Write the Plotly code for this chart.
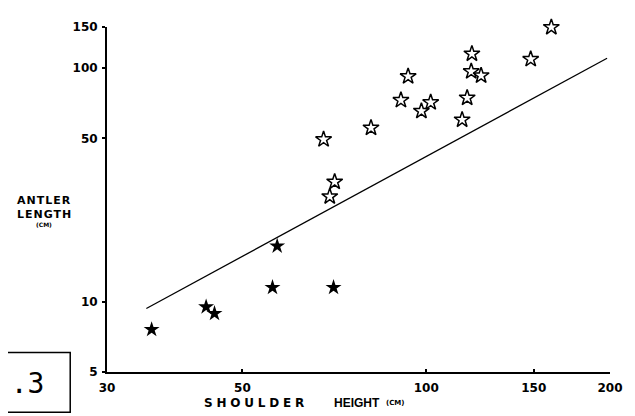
import math
import plotly.graph_objects as go

# Filled stars (shoulder height cm, antler length cm)
filled_height = [35.5, 43.6, 45.0, 56.0, 57.0, 70.5]
filled_antler = [7.6, 9.5, 8.9, 11.5, 17.3, 11.5]

# Open stars
open_height = [67.9, 70.8, 69.5, 81.2, 90.9, 93.4, 98.2, 101.7, 114.5, 116.7,
               118.5, 118.8, 123.0, 148.3, 160.3, 204.8]
open_antler = [49.5, 32.6, 28.2, 55.5, 72.9, 92.2, 65.5, 71.3, 60.1, 74.6,
               96.8, 115.2, 92.9, 109.2, 149.6, 110.9]

# Regression line endpoints
line_height = [34.8, 197.8]
line_antler = [9.35, 110.2]

x_ticks = [30, 50, 100, 150, 200]
y_ticks = [5, 10, 50, 100, 150]

# page is offset by the default 8px body margin
OFF = 8
W, H = 635 - OFF, 416 - OFF
L, R, T, B = 107 - OFF, 22, 20 - OFF, 44
PW, PH = W - L - R, H - T - B


def px(x):  # reference page pixel -> paper x
    return (x - 107) / PW


def py(y):  # reference page pixel -> paper y
    return (372 - y) / PH


fig = go.Figure()
fig.add_trace(go.Scatter(x=line_height, y=line_antler, mode="lines",
                         line=dict(color="black", width=1.3),
                         hoverinfo="skip", showlegend=False))
fig.add_trace(go.Scatter(x=filled_height, y=filled_antler, mode="markers",
                         marker=dict(symbol="star", size=12, color="black",
                                     line=dict(width=0)),
                         cliponaxis=False, showlegend=False))
fig.add_trace(go.Scatter(x=open_height, y=open_antler, mode="markers",
                         marker=dict(symbol="star-open", size=12, color="black",
                                     line=dict(width=1.5, color="black")),
                         cliponaxis=False, showlegend=False))

tickfont = dict(family="DejaVu Sans", size=12, color="black")

fig.update_layout(
    width=W, height=H,
    margin=dict(l=L, r=R, t=T, b=B, pad=0),
    paper_bgcolor="white", plot_bgcolor="white",
    showlegend=False,
    xaxis=dict(type="log", range=[math.log10(30), math.log10(200)],
               tickvals=x_ticks, ticktext=[f"<b>{v}</b>" for v in x_ticks],
               tickfont=tickfont, showgrid=False, zeroline=False,
               showline=True, linecolor="black", linewidth=2,
               ticks="inside", ticklen=3, tickwidth=1.5, tickcolor="black",
               ticklabelstandoff=4),
    yaxis=dict(type="log", range=[math.log10(5), math.log10(150)],
               tickvals=y_ticks, ticktext=[f"<b>{v}</b>" for v in y_ticks],
               tickfont=tickfont, showgrid=False, zeroline=False,
               showline=True, linecolor="black", linewidth=2,
               ticks="outside", ticklen=3, tickwidth=1.5, tickcolor="black",
               ticklabelstandoff=2),
)

titlefont = dict(family="DejaVu Sans", size=11, color="black")
fig.add_annotation(x=px(44), y=py(197), xref="paper", yref="paper",
                   text="<b><span style='letter-spacing:1px'>ANTLER</span></b>",
                   showarrow=False, font=titlefont, xanchor="center", yanchor="middle")
fig.add_annotation(x=px(44), y=py(211), xref="paper", yref="paper",
                   text="<b><span style='letter-spacing:1px'>LENGTH</span></b>",
                   showarrow=False, font=titlefont, xanchor="center", yanchor="middle")
fig.add_annotation(x=px(44), y=py(222), xref="paper", yref="paper",
                   text="<b>(CM)</b>",
                   showarrow=False, font=dict(family="DejaVu Sans", size=6, color="black"),
                   xanchor="center", yanchor="middle")
fig.add_annotation(x=px(203), y=py(404), xref="paper", yref="paper",
                   text="<b><span style='letter-spacing:3.8px'>SHOULDER</span></b>",
                   showarrow=False, font=dict(family="DejaVu Sans", size=12, color="black"),
                   xanchor="left", yanchor="middle")
fig.add_annotation(x=px(333), y=py(404), xref="paper", yref="paper",
                   text="<b>HEIGHT</b>",
                   showarrow=False,
                   font=dict(family="Liberation Sans", size=12, color="black"),
                   xanchor="left", yanchor="middle")
fig.add_annotation(x=px(386), y=py(404), xref="paper", yref="paper",
                   text="<b>(CM)</b>",
                   showarrow=False, font=dict(family="DejaVu Sans", size=7, color="black"),
                   xanchor="left", yanchor="middle")

# Figure label box
fig.add_shape(type="rect", xref="paper", yref="paper",
              x0=px(-5), x1=px(70), y0=py(413), y1=py(352),
              line=dict(color="black", width=1.5), fillcolor="white")
fig.add_annotation(x=px(46), y=py(384), xref="paper", yref="paper",
                   text="g .3", showarrow=False,
                   font=dict(family="DejaVu Sans Mono", size=28, color="black"),
                   xanchor="right", yanchor="middle")

fig.write_html("out.html")
